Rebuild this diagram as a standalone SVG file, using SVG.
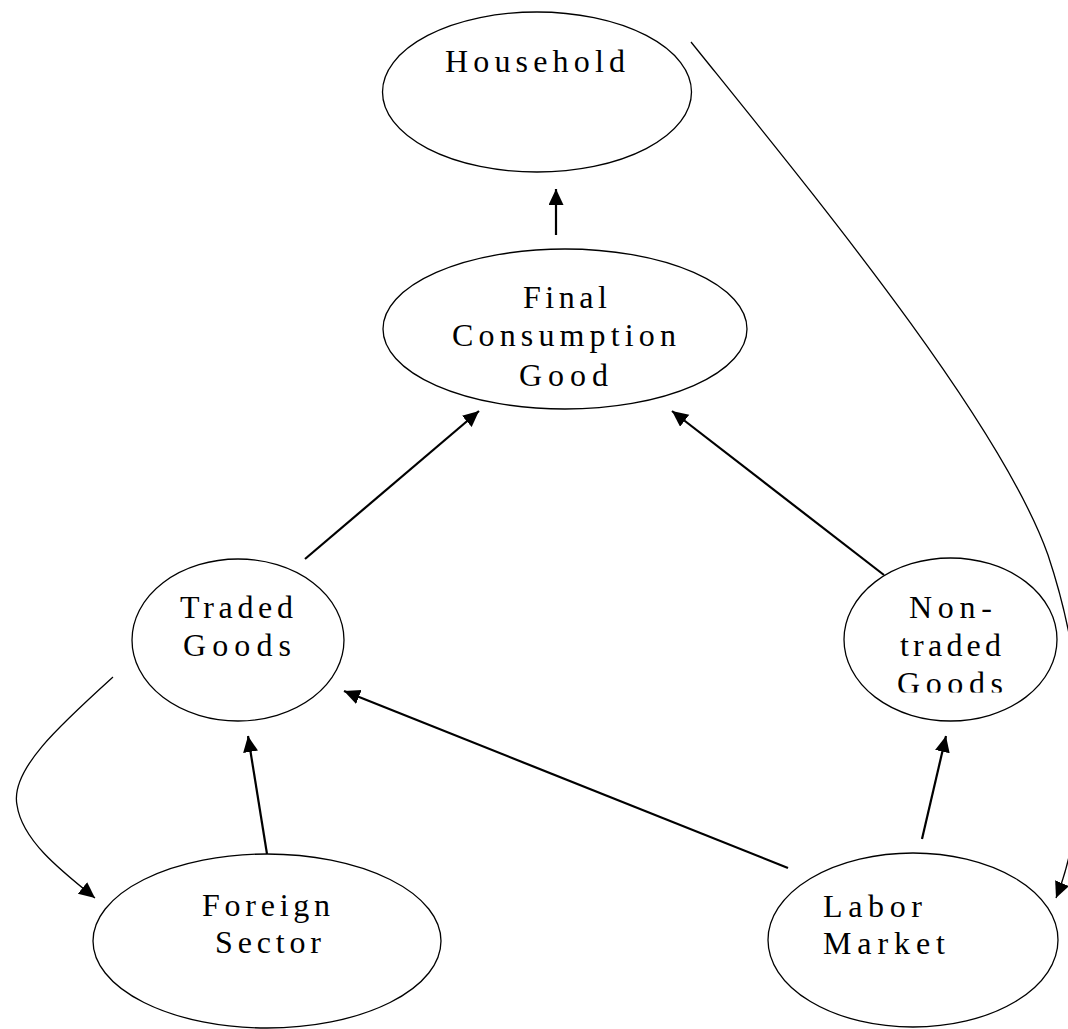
<svg xmlns="http://www.w3.org/2000/svg" width="1068" height="1029" viewBox="0 0 1068 1029">
<style>
.node ellipse{fill:#fff;stroke:#000;stroke-width:1.3}
.node text{font-family:"Liberation Serif","Times New Roman",serif;font-size:32px;fill:#000}
.conn path{fill:none;stroke:#000}
.thick{stroke-width:2.2}
.thin{stroke-width:1.3}
</style>
<defs>
<marker id="ah" markerUnits="userSpaceOnUse" markerWidth="20" markerHeight="18" refX="16" refY="7.5" orient="auto">
<path d="M0,0 L16,7.5 L0,15 z" fill="#000"/>
</marker>
<clipPath id="ntclip"><rect x="840" y="550" width="220" height="142.5"/></clipPath>
</defs>
<rect width="1068" height="1029" fill="#fff"/>
<g id="household" class="node">
<ellipse cx="537" cy="92" rx="154.5" ry="80"/>
<text x="445" y="72" textLength="180" lengthAdjust="spacing">Household</text>
</g>
<g id="final" class="node">
<ellipse cx="565" cy="329" rx="182" ry="80"/>
<text x="523" y="308" textLength="84" lengthAdjust="spacing">Final</text>
<text x="452" y="346" textLength="224" lengthAdjust="spacing">Consumption</text>
<text x="519" y="386" textLength="89" lengthAdjust="spacing">Good</text>
</g>
<g id="traded" class="node">
<ellipse cx="238" cy="640" rx="106" ry="81"/>
<text x="180" y="618" textLength="113" lengthAdjust="spacing">Traded</text>
<text x="183" y="656" textLength="108" lengthAdjust="spacing">Goods</text>
</g>
<g id="nontraded" class="node">
<ellipse cx="950.5" cy="639.5" rx="106.5" ry="81.5"/>
<g clip-path="url(#ntclip)">
<text x="909" y="618" textLength="83" lengthAdjust="spacing">Non-</text>
<text x="900" y="656" textLength="101" lengthAdjust="spacing">traded</text>
<text x="897" y="694" textLength="106" lengthAdjust="spacing">Goods</text>
</g>
</g>
<g id="foreign" class="node">
<ellipse cx="267" cy="941" rx="174" ry="87"/>
<text x="202" y="916" textLength="128" lengthAdjust="spacing">Foreign</text>
<text x="215" y="953" textLength="106" lengthAdjust="spacing">Sector</text>
</g>
<g id="labor" class="node">
<ellipse cx="913" cy="940" rx="145" ry="87"/>
<text x="823" y="917" textLength="99" lengthAdjust="spacing">Labor</text>
<text x="823" y="954" textLength="122" lengthAdjust="spacing">Market</text>
</g>
<g id="connectors" class="conn">
<path class="thick" d="M556,235 L556,189" marker-end="url(#ah)"/>
<path class="thick" d="M305,559 L479,411" marker-end="url(#ah)"/>
<path class="thick" d="M884,575 L672,411" marker-end="url(#ah)"/>
<path class="thick" d="M267,854 L248,736" marker-end="url(#ah)"/>
<path class="thick" d="M788,868 L344,691" marker-end="url(#ah)"/>
<path class="thick" d="M922,839 L946,736" marker-end="url(#ah)"/>
<path class="thin" d="M113,677 C60,725 10,770 17,805 C22,840 60,870 95,898" marker-end="url(#ah)"/>
<path class="thin" d="M691,42 C810,190 1000,420 1048,555 C1098,705 1082,835 1056,898" marker-end="url(#ah)"/>
</g>
</svg>
